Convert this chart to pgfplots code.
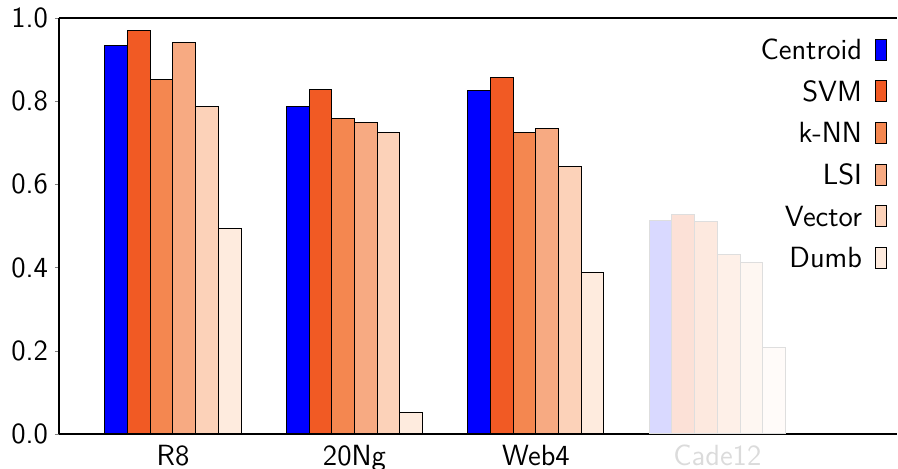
\documentclass[border=0pt]{standalone}
\usepackage{fontspec}
\usepackage{pgfplots}
\pgfplotsset{compat=1.18}
\renewcommand{\familydefault}{\sfdefault}
\definecolor{cCen}{RGB}{0,0,255}
\definecolor{cSVM}{RGB}{241,90,36}
\definecolor{cKNN}{RGB}{244,135,80}
\definecolor{cLSI}{RGB}{247,170,130}
\definecolor{cVec}{RGB}{252,210,185}
\definecolor{cDumb}{RGB}{254,235,222}
\pgfplotsset{
  /pgfplots/ybar legend/.style={
    /pgfplots/legend image code/.code={\draw[##1] (0pt,-5.25pt) rectangle (5.5pt,5.25pt);}
  }
}
\begin{document}
\begin{tikzpicture}
\begin{axis}[
  scale only axis, width=419pt, height=208pt,
  xmin=-0.628, xmax=3.99, ymin=0, ymax=1,
  axis x line=box, axis y line=left,
  y axis line style={-}, x axis line style={-},
  axis line style={line width=0.6pt},
  ybar, bar width=0.125,
  xtick={0,1,2,3},
  xticklabels={R8,20Ng,Web4,\textcolor{black!14}{Cade12}},
  xtick style={draw=none},
  ytick={0,0.2,0.4,0.6,0.8,1.0},
  ytick pos=left, tick align=outside, major tick length=2pt,
  yticklabel style={/pgf/number format/fixed, /pgf/number format/fixed zerofill, /pgf/number format/precision=1},
  /pgf/number format/assume math mode=true,
  tick label style={font=\fontsize{14.6}{17}\selectfont},
  legend plot pos=right,
  legend cell align=right,
  legend style={draw=none, fill=none, inner sep=0pt, outer sep=0pt,
    at={(rel axis cs:0.988,0.95)}, anchor=north east,
    font=\fontsize{14.6}{17}\selectfont,
    nodes={inner sep=0pt, text height=10pt, text depth=0pt},
    column sep=6.5pt, row sep=9.8pt},
]
\addplot[fill=cCen, draw=black, line width=0.5pt, bar shift=-0.3125] coordinates {(0,0.935) (1,0.788) (2,0.826)};
\addplot[fill=cSVM, draw=black, line width=0.5pt, bar shift=-0.1875] coordinates {(0,0.969) (1,0.828) (2,0.857)};
\addplot[fill=cKNN, draw=black, line width=0.5pt, bar shift=-0.0625] coordinates {(0,0.851) (1,0.758) (2,0.725)};
\addplot[fill=cLSI, draw=black, line width=0.5pt, bar shift=0.0625] coordinates {(0,0.940) (1,0.749) (2,0.735)};
\addplot[fill=cVec, draw=black, line width=0.5pt, bar shift=0.1875] coordinates {(0,0.788) (1,0.724) (2,0.643)};
\addplot[fill=cDumb, draw=black, line width=0.5pt, bar shift=0.3125] coordinates {(0,0.493) (1,0.052) (2,0.389)};
\legend{Centroid,SVM,k-NN,LSI,Vector,Dumb}
\addplot[forget plot, fill=cCen, fill opacity=0.15, draw=black!13, line width=0.5pt, bar shift=-0.3125] coordinates {(3,0.514)};
\addplot[forget plot, fill=cSVM, fill opacity=0.18, draw=black!13, line width=0.5pt, bar shift=-0.1875] coordinates {(3,0.528)};
\addplot[forget plot, fill=cKNN, fill opacity=0.18, draw=black!13, line width=0.5pt, bar shift=-0.0625] coordinates {(3,0.510)};
\addplot[forget plot, fill=cLSI, fill opacity=0.18, draw=black!13, line width=0.5pt, bar shift=0.0625] coordinates {(3,0.432)};
\addplot[forget plot, fill=cVec, fill opacity=0.18, draw=black!13, line width=0.5pt, bar shift=0.1875] coordinates {(3,0.413)};
\addplot[forget plot, fill=cDumb, fill opacity=0.18, draw=black!13, line width=0.5pt, bar shift=0.3125] coordinates {(3,0.207)};
\end{axis}
\pgfresetboundingbox
\useasboundingbox (-29.5pt,-17.5pt) rectangle (419.5pt,217pt);
\end{tikzpicture}
\end{document}
